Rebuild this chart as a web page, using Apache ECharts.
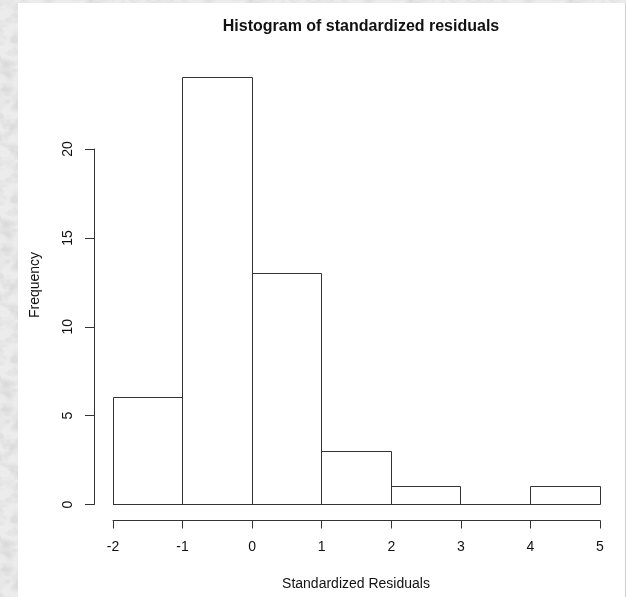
<!DOCTYPE html>
<html>
<head>
<meta charset="utf-8">
<script src="https://cdn.jsdelivr.net/npm/echarts@6/dist/echarts.min.js"></script>
<style>
  html, body { margin: 0; padding: 0; width: 626px; height: 597px; overflow: hidden; }
  body {
    background-color: #dedede;
    background-image: url("data:image/svg+xml;utf8,<svg xmlns='http://www.w3.org/2000/svg' width='160' height='160'><filter id='n'><feTurbulence type='fractalNoise' baseFrequency='0.07 0.09' numOctaves='5' seed='3'/><feColorMatrix type='matrix' values='0 0 0 0 0.62  0 0 0 0 0.62  0 0 0 0 0.62  0 0 0 -1.5 0.95'/></filter><rect width='160' height='160' fill='%23ececec'/><rect width='160' height='160' filter='url(%23n)'/></svg>");
  }
  #paper { position: absolute; left: 18px; top: 3px; width: 607px; height: 594px; background: #ffffff; border-right: 1px solid #d2d2d2; }
  #chart { position: absolute; left: 0; top: 0; width: 626px; height: 597px; }
</style>
</head>
<body>
<div id="paper"></div>
<div id="chart"></div>
<script>
// Histogram bins: left edges, right edges and counts
const binStart = [-2, -1, 0, 1, 2, 3, 4];
const binEnd   = [-1, 0, 1, 2, 3, 4, 5];
const counts   = [6, 24, 13, 3, 1, 0, 1];

// Axis tick values
const xTicks = [-2, -1, 0, 1, 2, 3, 4, 5];
const yTicks = [0, 5, 10, 15, 20];

const ink = '#333333';
const font = '"Liberation Sans", Arial, Helvetica, sans-serif';

const chart = echarts.init(document.getElementById('chart'));

// snap to pixel centres so 1px outlines stay sharp
const crisp = v => Math.floor(v) + 0.5;

chart.setOption({
  animation: false,
  title: {
    text: 'Histogram of standardized residuals',
    left: 356, top: 14,
    textAlign: 'center',
    textStyle: { fontFamily: font, fontSize: 16, fontWeight: 'bold', color: '#111' }
  },
  grid: { left: 113, right: 26, top: 149, bottom: 92.5 },
  xAxis: {
    type: 'value',
    min: xTicks[0], max: xTicks[xTicks.length - 1], interval: 1,
    offset: 16,
    splitLine: { show: false },
    axisLine: { show: true, onZero: false, lineStyle: { color: ink, width: 1 } },
    axisTick: { show: true, length: 8, lineStyle: { color: ink, width: 1 } },
    axisLabel: { margin: 20, fontFamily: font, fontSize: 14, color: '#111' }
  },
  yAxis: {
    type: 'value',
    min: yTicks[0], max: yTicks[yTicks.length - 1], interval: 5,
    offset: 19,
    splitLine: { show: false },
    axisLine: { show: true, onZero: false, lineStyle: { color: ink, width: 1 } },
    axisTick: { show: true, length: 9, lineStyle: { color: ink, width: 1 } },
    axisLabel: { margin: 19, rotate: 90, fontFamily: font, fontSize: 14, color: '#111' }
  },
  graphic: [
    {
      type: 'text', x: 356, y: 584,
      style: { text: 'Standardized Residuals', font: '14px ' + font, fill: '#111', align: 'center', verticalAlign: 'middle' }
    },
    {
      type: 'text', x: 35, y: 285, rotation: Math.PI / 2,
      style: { text: 'Frequency', font: '14px ' + font, fill: '#111', align: 'center', verticalAlign: 'middle' }
    }
  ],
  series: [
    {
      // bin outlines
      type: 'custom',
      clip: false,
      encode: { x: [0, 1], y: 2 },
      data: binStart.map((s, i) => [s, binEnd[i], counts[i]]),
      renderItem: function (params, api) {
        const a = api.coord([api.value(0), 0]);
        const b = api.coord([api.value(1), api.value(2)]);
        const x0 = crisp(a[0]), x1 = crisp(b[0]);
        const y0 = crisp(a[1]), y1 = crisp(b[1]);
        const edge = (p, q) => ({
          type: 'line',
          shape: { x1: p[0], y1: p[1], x2: q[0], y2: q[1] },
          style: { stroke: ink, lineWidth: 1 }
        });
        return {
          type: 'group',
          children: [
            edge([x0, y0], [x1, y0]),
            edge([x0, y1], [x1, y1]),
            edge([x0, y0], [x0, y1]),
            edge([x1, y0], [x1, y1])
          ]
        };
      }
    },
    {
      // common baseline under all bins, empty ones included
      type: 'line',
      clip: false,
      silent: true,
      symbol: 'none',
      data: [[binStart[0], 0], [binEnd[binEnd.length - 1], 0]],
      lineStyle: { color: ink, width: 1 }
    }
  ]
});
</script>
</body>
</html>
